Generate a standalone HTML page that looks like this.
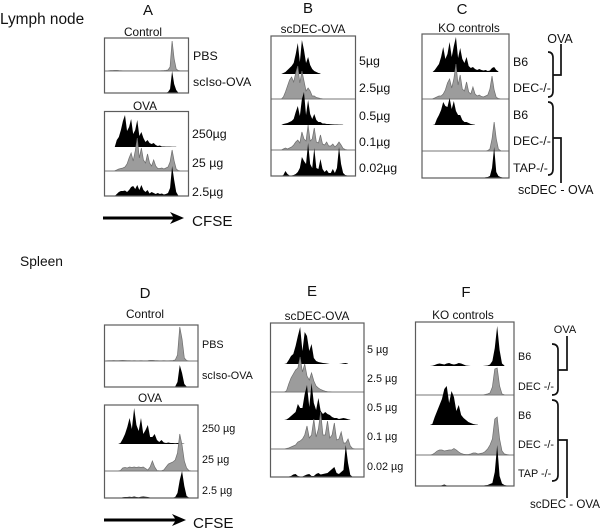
<!DOCTYPE html>
<html lang="en">
<head>
<meta charset="utf-8">
<title>CFSE dilution histograms</title>
<style>
html,body{margin:0;padding:0;background:#fff}
svg{display:block}
text{font-family:"Liberation Sans",sans-serif;fill:#111}
.t{font-size:11.8px;text-anchor:middle}
.l{font-size:12.4px}
.s{font-size:10.8px}
.h{font-size:15px;text-anchor:middle}
.box{fill:none;stroke:#5c5c5c;stroke-width:1.2}
.br{fill:none;stroke:#111;stroke-width:1.7}
</style>
</head>
<body>
<svg id="figure" xmlns="http://www.w3.org/2000/svg" width="600" height="529" viewBox="0 0 600 529">
<defs><filter id="soft" x="-2%" y="-2%" width="104%" height="104%"><feGaussianBlur stdDeviation="0.35"/></filter></defs>
<rect width="600" height="529" fill="#fff"/>
<g id="marks" filter="url(#soft)"></g>

<text x="0" y="24" font-size="15.4">Lymph node</text>
<text x="20" y="266" font-size="13.8">Spleen</text>

<!-- Panel A -->
<text class="h" x="148" y="15">A</text>
<text class="t" x="143" y="36">Control</text>
<rect class="box" x="104.5" y="38" width="84" height="55"/>
<text class="l" x="193" y="60">PBS</text>
<text class="l" x="193" y="86">scIso-OVA</text>
<text class="t" x="145" y="110">OVA</text>
<rect class="box" x="104.5" y="111.5" width="84" height="84.5"/>
<text class="l" x="192" y="138">250µg</text>
<text class="l" x="192" y="167">25 µg</text>
<text class="l" x="192" y="196">2.5µg</text>
<g>
<line x1="103" y1="218" x2="176" y2="218" stroke="#000" stroke-width="3"/>
<path d="M170 212 L184 218 L170 224 L174 218 Z" fill="#000"/>
</g>
<text x="192" y="226" font-size="15.2">CFSE</text>

<!-- Panel B -->
<text class="h" x="308" y="13">B</text>
<text class="t" x="313" y="33">scDEC-OVA</text>
<rect class="box" x="271" y="36" width="84.5" height="140"/>
<text class="l" x="359" y="65">5µg</text>
<text class="l" x="359" y="92">2.5µg</text>
<text class="l" x="359" y="120">0.5µg</text>
<text class="l" x="359" y="146">0.1µg</text>
<text class="l" x="359" y="172">0.02µg</text>

<!-- Panel C -->
<text class="h" x="462" y="14">C</text>
<text class="t" x="469" y="32">KO controls</text>
<rect class="box" x="422" y="34" width="87" height="144"/>
<text class="l" x="513" y="66">B6</text>
<text class="l" x="513" y="92">DEC-/-</text>
<text class="l" x="513" y="119">B6</text>
<text class="l" x="513" y="145">DEC-/-</text>
<text class="l" x="513" y="172">TAP-/-</text>
<text x="560" y="43" font-size="12.5" text-anchor="middle">OVA</text>
<path class="br" d="M548 52 Q553 52 553 58 L553 91 Q553 97 548 97"/>
<path class="br" d="M553 75 H561 V44"/>
<path class="br" d="M548 102 Q553 102 553 108 L553 169 Q553 175 548 175"/>
<path class="br" d="M553 138 H561 V183"/>
<text x="518" y="194" font-size="12.5">scDEC - OVA</text>

<!-- Panel D -->
<text class="h" x="145" y="298">D</text>
<text class="t" x="145" y="318">Control</text>
<rect class="box" x="104.5" y="325" width="93.5" height="62"/>
<text class="s" x="202" y="348">PBS</text>
<text class="s" x="202" y="379">scIso-OVA</text>
<text class="t" x="150" y="402">OVA</text>
<rect class="box" x="104.5" y="405" width="93.5" height="93"/>
<text class="s" x="202" y="432">250 µg</text>
<text class="s" x="202" y="463">25 µg</text>
<text class="s" x="202" y="494">2.5 µg</text>
<g>
<line x1="104" y1="520" x2="178" y2="520" stroke="#000" stroke-width="3"/>
<path d="M172 514 L186 520 L172 526 L176 520 Z" fill="#000"/>
</g>
<text x="193" y="528" font-size="15.2">CFSE</text>

<!-- Panel E -->
<text class="h" x="312" y="296">E</text>
<text class="t" x="317" y="320">scDEC-OVA</text>
<rect class="box" x="270.5" y="323" width="93.5" height="154"/>
<text class="s" x="367" y="353">5 µg</text>
<text class="s" x="367" y="382">2.5 µg</text>
<text class="s" x="367" y="411">0.5 µg</text>
<text class="s" x="367" y="440">0.1 µg</text>
<text class="s" x="367" y="470">0.02 µg</text>

<!-- Panel F -->
<text class="h" x="466" y="297">F</text>
<text class="t" x="463" y="319">KO controls</text>
<rect class="box" x="415.5" y="322" width="98.5" height="164"/>
<text class="s" x="518" y="360">B6</text>
<text class="s" x="518" y="390">DEC -/-</text>
<text class="s" x="518" y="419">B6</text>
<text class="s" x="518" y="448">DEC -/-</text>
<text class="s" x="518" y="477">TAP -/-</text>
<text x="565" y="333" font-size="11" text-anchor="middle">OVA</text>
<path class="br" d="M552 344 Q558 344 558 350 L558 389 Q558 395 552 395"/>
<path class="br" d="M558 370 H567 V336"/>
<path class="br" d="M552 400 Q558 400 558 406 L558 475 Q558 481 552 481"/>
<path class="br" d="M558 440 H567 V498"/>
<text x="530" y="508" font-size="11.6">scDEC - OVA</text>
</svg>

<script>
// Histogram heights per CFSE channel bin (42 bins; unlisted trailing bins are 0).
const aPbs = [0,0,.3,.5,.5,.7,.7,.5,.4,.3,.3,.3,.3,.3,.3,.3,.3,.3,.3,.3,.3,.3,.3,.3,.3,.3,.3,.3,.4,.5,.7,1,4,30,12,2,.5,.3,.3,.3,.3,.3];
const aIso = [0,0,0,0,0,0,0,0,0,0,0,0,0,0,0,0,0,0,0,0,0,0,0,0,0,0,0,0,0,0,.3,1,4,22,9,3,.4];
const a250 = [0,0,0,0,0,0,7,10,17,26,32,16,20,28,13,17,27,11,15,9,5,7,4,3,4,2,1,1.5,.5,.5,.4,.4,.4,.3,.3,.3];
const a25 = [0,0,0,0,0,.3,1,2,2.5,3,4,7,13,18,10,20,33,13,23,11,8,17,8,5,11,5,2.5,2.5,3,2,3,4,9,21,10,2,.5,.2,.2,.2,.2,.2];
const a2p5 = [0,0,0,0,0,0,2,4,5,5,5.5,4,6,9,10,7,11,6,11,6,4,6,2.5,4,3,2,3,2,2.5,1.5,2,3,8,30,16,4,.5];

const b5 = [0,0,0,0,0,0,1,2,4,6,8,11,20,31,12,34,24,11,17,9,5,3,2,1,.5];
const b2p5 = [0,0,0,0,0,0,2,7,13,19,22,17,26,33,16,28,18,8,11,8,3,3,1.5,1,.5,.3,.2,.2,.2,.2,.2,.2,.2,.2,.2,.2,.2,.2,.2,.2,.2,.2];
const b0p5 = [0,0,0,0,0,0,1,1.5,2,3,4,6,13,19,9,26,33,10,25,11,6,11,5,3,3,1.5,1.5,1,1,.7,.6,.5,.5,.4,.4,.3];
const b0p1 = [0,0,0,0,0,0,1,2,1,2,3,5,8,10,7,18,11,9,25,9,11,22,8,7,15,6,5,8,4,4,6,3,5,8,5,1.5,.5,.2,.2,.2,.2,.2];
const b0p02 = [0,0,0,0,0,0,1,5,2,.5,.5,1,2,4,8,19,15,12,33,12,8,28,8,7,17,7,4,6,3,3,7,3,8,29,12,3,1,.5];

const cB6Ova = [0,0,0,0,0,0,2,5,8,15,25,13,18,30,15,26,35,14,24,13,9,15,6,4,5,3,2,3,2,1.5,2,1,1.5,4,5,2,.5];
const cDecOva = [0,0,0,0,0,.3,1,2,3,3,5,9,16,20,11,20,35,14,24,10,8,17,7,5,12,5,3,4,2.5,2,3,4,10,23,9,1.5,.5,.2,.2,.2,.2,.2];
const cB6Dec = [0,0,0,0,0,0,.5,6,10,15,23,19,18,27,16,24,14,10,10,5,3,3,2,1,.6,.3];
const cDecDec = [0,0,0,0,0,0,0,0,0,0,0,0,0,0,0,0,0,0,0,0,0,0,0,0,0,0,0,0,0,0,0,.5,2,12,29,12,2,.5];
const cTapDec = [0,0,0,0,0,0,0,0,0,0,0,0,0,0,0,0,0,0,0,0,0,0,0,0,0,0,0,0,0,.3,.7,1,2,10,31,6,2,1,.5];

const dPbs = [0,.3,.4,.4,.5,.4,.4,.5,.6,.5,.4,.4,.3,.4,.3,.3,.4,.3,.3,.4,.6,.7,.5,.4,.3,.3,.4,.3,.3,.4,.5,1,6,34,22,3,.5,.2,.2,.2,.2,.2];
const dIso = [0,0,0,0,0,.3,.4,.4,.4,.3,.3,.3,.3,.3,.3,.3,.3,.2,.2,.2,.2,.2,.2,.2,.2,.2,.2,.2,.2,.2,.3,.5,5,22,14,3,.5];
const d250 = [0,0,0,0,0,0,0,1,5,10,17,26,15,36,19,13,26,10,14,19,7,7,10,4,2,4,1.5,1,1.5,1,1,.8,1,1,.5,.3];
const d25 = [0,0,0,0,0,0,.2,.5,3,3.5,3,4,3.5,4,3.5,4,3.5,4,2.5,1,4,10,4,.5,.3,.3,1,4,7,8,9,11,18,37,26,10,3,.5,.2,.2,.2,.2];
const d2p5 = [0,0,0,0,0,0,0,0,.8,1,1,1.2,1,1.5,1,.8,1.2,1.5,1.2,1,.5,.3,0,0,0,0,0,0,0,0,.4,1,5,18,27,12,2,.5];

const e5 = [0,0,0,0,0,0,0,.5,4,8,10,18,28,37,13,32,28,13,20,6,3,2,1.5,1,.8,.4,0,0,0,0,0,.3,.8,1,.3];
const e2p5 = [0,0,0,0,0,0,0,1,8,14,18,22,24,35,20,28,16,12,19,11,6,4,2.5,1.5,.8,.4,.3,.2,.2,.2,.2,.2,.2,.2,.2,.2,.2,.2,.2,.2,.2,.2];
const e0p5 = [0,0,0,0,0,0,0,.5,2,4,6,8,16,12,12,26,35,13,37,17,10,22,9,6,8,6,5,3,2,2,1,1.5,2,1.5,.8,.3];
const e0p1 = [0,0,0,0,0,0,0,.5,1,2,3,4,7,8,10,14,23,11,14,30,12,20,37,14,14,28,11,14,26,9,10,17,6,6,10,3,.5,.2,.2,.2,.2,.2];
const e0p02 = [0,0,0,0,0,0,0,0,.5,1,2.5,3,1,.5,.5,1.5,2.5,3,1,1,3,4,2.5,3,3.5,4,6,8,10,4,3,5,7,32,14,2,.3];

const fB6Ova = [0,0,0,0,0,0,0,.3,1,2,2.5,2,1.5,2.5,3,2,1.5,2,3,2.5,1.5,.5,.2,0,0,0,0,0,0,.3,.5,1.5,5,18,40,16,2.5,.5];
const fDecOva = [0,0,0,0,0,0,0,0,0,0,0,0,0,0,0,0,0,0,0,0,0,0,0,0,0,0,0,0,0,.5,1,2,8,26,27,9,1,.3];
const fB6Dec = [0,0,0,0,0,0,0,1,8,14,20,26,36,39,22,34,28,14,20,10,7,5,3,2,1,.5,.2];
const fDecDec = [0,0,0,0,0,0,0,.5,2,4,5,5,4,4.5,5,5,6.5,5,3,1.5,.8,.5,.5,1,2,2,1,1.5,2,3.5,6,10,16,36,38,16,4,1,.5,.2,.2,.2];
const fTapDec = [0,0,0,0,0,0,0,0,0,0,0,.8,1.5,.5,0,0,0,0,0,0,0,0,0,0,0,0,0,0,.3,.7,1,2,3,14,41,10,2.5,1,.5];

const BIN_COUNT = 42;
const BLACK = '#000';
const GREY = '#9c9c9c';
const marksGroup = document.getElementById('marks');
const NS = 'http://www.w3.org/2000/svg';

// Axis functions: bin -> x inside a panel, height -> y above a baseline.
function xAxis(left, right) {
  return function (bin) { return left + bin * (right - left) / (BIN_COUNT - 1); };
}
function yAxis(baseline) {
  return function (height) { return baseline - height; };
}

function drawTrace(name, values, x0, x1, baseline, grey) {
  const x = xAxis(x0, x1);
  const y = yAxis(baseline);
  let d = 'M' + x(0).toFixed(2) + ' ' + baseline;
  values.forEach(function (v, i) {
    d += ' L' + x(i).toFixed(2) + ' ' + y(v).toFixed(2);
  });
  d += ' L' + x(values.length - 1).toFixed(2) + ' ' + baseline + ' Z';
  const area = document.createElementNS(NS, 'path');
  area.setAttribute('d', d);
  area.setAttribute('fill', grey ? GREY : BLACK);
  if (grey) {
    area.setAttribute('stroke', '#6e6e6e');
    area.setAttribute('stroke-width', '0.7');
  }
  
  
  marksGroup.appendChild(area);
  if (grey) {
    const rule = document.createElementNS(NS, 'line');
    rule.setAttribute('x1', x0);
    rule.setAttribute('x2', x1);
    rule.setAttribute('y1', baseline);
    rule.setAttribute('y2', baseline);
    rule.setAttribute('stroke', '#777');
    rule.setAttribute('stroke-width', '1');
    
    
    marksGroup.appendChild(rule);
  }
}

drawTrace('trace-a-pbs', aPbs, 104.5, 188.5, 71, true);
drawTrace('trace-a-sciso', aIso, 104.5, 188.5, 93, false);
drawTrace('trace-a-250', a250, 104.5, 188.5, 147, false);
drawTrace('trace-a-25', a25, 104.5, 188.5, 171, true);
drawTrace('trace-a-2-5', a2p5, 104.5, 188.5, 196, false);

drawTrace('trace-b-5', b5, 271, 355.5, 74, false);
drawTrace('trace-b-2-5', b2p5, 271, 355.5, 99, true);
drawTrace('trace-b-0-5', b0p5, 271, 355.5, 125, false);
drawTrace('trace-b-0-1', b0p1, 271, 355.5, 150, true);
drawTrace('trace-b-0-02', b0p02, 271, 355.5, 176, false);

drawTrace('trace-c-b6-ova', cB6Ova, 422, 509, 72, false);
drawTrace('trace-c-dec-ova', cDecOva, 422, 509, 99, true);
drawTrace('trace-c-b6-scdec', cB6Dec, 422, 509, 125, false);
drawTrace('trace-c-dec-scdec', cDecDec, 422, 509, 151, true);
drawTrace('trace-c-tap-scdec', cTapDec, 422, 509, 178, false);

drawTrace('trace-d-pbs', dPbs, 104.5, 198, 361, true);
drawTrace('trace-d-sciso', dIso, 104.5, 198, 387, false);
drawTrace('trace-d-250', d250, 104.5, 198, 444, false);
drawTrace('trace-d-25', d25, 104.5, 198, 471, true);
drawTrace('trace-d-2-5', d2p5, 104.5, 198, 498, false);

drawTrace('trace-e-5', e5, 270.5, 364, 364, false);
drawTrace('trace-e-2-5', e2p5, 270.5, 364, 392, true);
drawTrace('trace-e-0-5', e0p5, 270.5, 364, 420, false);
drawTrace('trace-e-0-1', e0p1, 270.5, 364, 449, true);
drawTrace('trace-e-0-02', e0p02, 270.5, 364, 477, false);

drawTrace('trace-f-b6-ova', fB6Ova, 415.5, 514, 366, false);
drawTrace('trace-f-dec-ova', fDecOva, 415.5, 514, 395, true);
drawTrace('trace-f-b6-scdec', fB6Dec, 415.5, 514, 425, false);
drawTrace('trace-f-dec-scdec', fDecDec, 415.5, 514, 455, true);
drawTrace('trace-f-tap-scdec', fTapDec, 415.5, 514, 486, false);
</script>
</body>
</html>
